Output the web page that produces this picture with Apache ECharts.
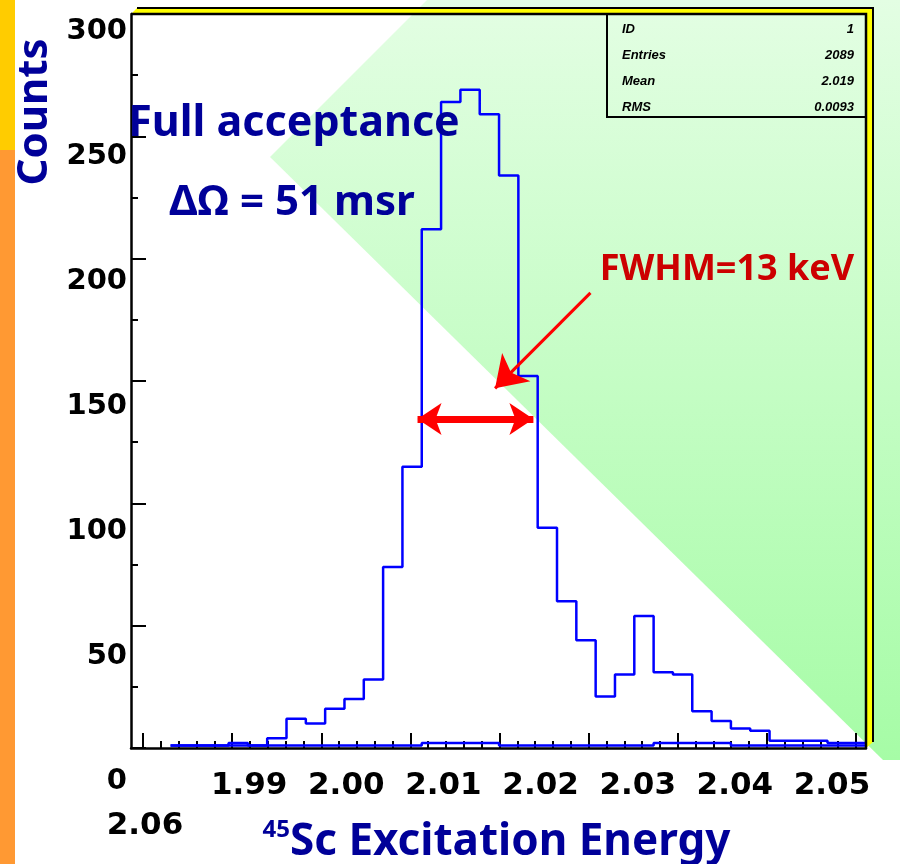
<!DOCTYPE html>
<html>
<head>
<meta charset="utf-8">
<script src="https://cdn.jsdelivr.net/npm/echarts@6/dist/echarts.min.js"></script>
<style>
  html, body { margin: 0; padding: 0; background: #ffffff; }
  #chart { width: 900px; height: 864px; }
</style>
</head>
<body>
<div id="chart"></div>
<script>
// 45Sc excitation-energy spectrum, full acceptance
const binStart = 1.98309;   // MeV, low edge of the first bin
const binWidth = 0.002168;  // MeV per bin
const counts = [1, 1, 1, 2, 1, 4, 12, 10, 16, 20, 28, 74, 115, 212, 264, 269, 259, 234,
                152, 90, 60, 44, 21, 30, 54, 31, 30, 15, 11, 8, 7, 3, 3, 3, 2, 2];
const lowCounts = [1, 1, 1, 1, 1, 1, 1, 1, 1, 1, 1, 1, 1, 2, 2, 2, 2, 1,
                   1, 1, 1, 1, 1, 1, 1, 2, 2, 2, 2, 1, 1, 1, 1, 1, 1, 1];
const yTickLabels = ['0', '50', '100', '150', '200', '250', '300'];
const xTickLabels = ['', '1.99', '2.00', '2.01', '2.02', '2.03', '2.04', '2.05'];
const wrappedXLabel = '2.06';
const fwhmKeV = 13;
const fwhmCenter = 2.0173;          // MeV
const pointerFrom = [2.0302, 186];  // [MeV, counts]
const pointerTo = [2.0195, 147];
const statNames = ['ID', 'Entries', 'Mean', 'RMS'];

function stepPoints(vals) {
  const pts = vals.map((c, i) => [binStart + i * binWidth, c]);
  pts.push([binStart + vals.length * binWidth, vals[vals.length - 1]]);
  return pts;
}

const peak = Math.max(...counts);
const entries = counts.reduce((a, b) => a + b, 0);
const mean = counts.reduce((a, c, i) => a + c * (binStart + (i + 0.5) * binWidth), 0) / entries;
const rms = Math.sqrt(counts.reduce((a, c, i) => {
  const d = binStart + (i + 0.5) * binWidth - mean; return a + c * d * d; }, 0) / entries);
const statValues = ['1', String(entries), mean.toFixed(3), rms.toFixed(4)];

const navy = '#000099';
const font = 'Noto Sans';
const numFont = 'DejaVu Sans';

const chart = echarts.init(document.getElementById('chart'), null, { renderer: 'canvas' });

const statText = [];
statNames.forEach((n, i) => {
  statText.push({ type: 'text', x: 622, y: 29 + i * 26, z: 50,
    style: { text: n, font: 'italic bold 13px "Liberation Sans"', fill: '#000', verticalAlign: 'middle' } });
  statText.push({ type: 'text', x: 854, y: 29 + i * 26, z: 50,
    style: { text: statValues[i], font: 'italic bold 13px "Liberation Sans"', fill: '#000', align: 'right', verticalAlign: 'middle' } });
});

chart.setOption({
  animation: false,
  backgroundColor: '#ffffff',
  grid: [
    { left: 131, right: 34, top: 14, bottom: 116 },   // spectrum
    { left: 143, right: 44, top: 14, bottom: 116 },   // energy ticks
    { left: 152, right: 68, top: 14, bottom: 98 },    // energy labels
    { left: 131, right: 34, top: 31, bottom: 83 }     // count labels
  ],
  xAxis: [
    { gridIndex: 0, type: 'value', min: 1.97865, max: 2.06112,
      axisLine: { show: true, onZero: false, lineStyle: { color: '#000', width: 2.5 } },
      axisTick: { show: false }, axisLabel: { show: false }, splitLine: { show: false } },
    { gridIndex: 1, type: 'value', min: 1.98, max: 2.06, interval: 0.01,
      axisLine: { show: false },
      axisTick: { show: true, inside: true, length: 15, lineStyle: { color: '#000', width: 2 } },
      minorTick: { show: true, splitNumber: 5, length: 7, lineStyle: { color: '#000', width: 2 } },
      axisLabel: { show: false }, splitLine: { show: false } },
    { gridIndex: 2, type: 'category', data: xTickLabels, boundaryGap: false,
      axisLine: { show: false }, axisTick: { show: false }, splitLine: { show: false },
      axisLabel: { show: true, interval: 0, margin: 4, color: '#000',
        fontFamily: numFont, fontWeight: 'bold', fontSize: 31 } },
    { gridIndex: 3, type: 'value', show: false }
  ],
  yAxis: [
    { gridIndex: 0, type: 'value', min: 0, max: 300, interval: 50,
      axisLine: { show: true, lineStyle: { color: '#000', width: 2.5 } },
      axisTick: { show: true, inside: true, length: 15, lineStyle: { color: '#000', width: 2 } },
      minorTick: { show: true, splitNumber: 2, length: 7, lineStyle: { color: '#000', width: 2 } },
      axisLabel: { show: false }, splitLine: { show: false } },
    { gridIndex: 1, type: 'value', min: 0, max: 300, show: false },
    { gridIndex: 2, type: 'value', min: 0, max: 300, show: false },
    { gridIndex: 3, type: 'category', data: yTickLabels, boundaryGap: false,
      axisLine: { show: false }, axisTick: { show: false }, splitLine: { show: false },
      axisLabel: { show: true, interval: 0, margin: 4, color: '#000',
        fontFamily: numFont, fontWeight: 'bold', fontSize: 29 } }
  ],
  series: [
    { type: 'line', xAxisIndex: 0, yAxisIndex: 0, step: 'end', showSymbol: false, silent: true,
      data: stepPoints(lowCounts), lineStyle: { color: '#0000ff', width: 2.5 }, z: 3 },
    { type: 'line', xAxisIndex: 0, yAxisIndex: 0, step: 'end', showSymbol: false, silent: true,
      data: stepPoints(counts), lineStyle: { color: '#0000ff', width: 2.5 }, z: 4,
      markLine: {
        silent: true, animation: false,
        label: { show: false },
        data: [
          [ { coord: [fwhmCenter - fwhmKeV / 2000, peak / 2], symbol: 'arrow', symbolSize: 24,
              lineStyle: { color: '#ff0000', width: 7, type: 'solid' } },
            { coord: [fwhmCenter + fwhmKeV / 2000, peak / 2], symbol: 'arrow', symbolSize: 24 } ],
          [ { coord: pointerFrom, symbol: 'none', lineStyle: { color: '#ff0000', width: 3, type: 'solid' } },
            { coord: pointerTo, symbol: 'arrow', symbolSize: 30 } ]
        ]
      } }
  ],
  graphic: [
    // slide side band
    { type: 'rect', shape: { x: 0, y: 0, width: 15, height: 150 }, style: { fill: '#ffcc00' }, z: -5 },
    { type: 'rect', shape: { x: 0, y: 150, width: 15, height: 714 }, style: { fill: '#ff9933' }, z: -5 },
    // green backdrop
    { type: 'polygon', z: -10,
      shape: { points: [[427, 0], [900, 0], [900, 760], [883, 760], [270, 157]] },
      style: { fill: new echarts.graphic.LinearGradient(0, 0, 0, 1, [
        { offset: 0, color: '#e3fee3' }, { offset: 1, color: '#a6fca6' }]) } },
    // raised frame
    { type: 'polygon', z: 20,
      shape: { points: [[131, 14], [137, 8], [873, 8], [873, 742], [866, 748], [866, 14]] },
      style: { fill: '#ffff00' } },
    { type: 'polyline', z: 21, shape: { points: [[137, 8], [873, 8], [873, 742]] },
      style: { stroke: '#000', lineWidth: 2, fill: null } },
    { type: 'polyline', z: 21, shape: { points: [[131, 14], [866, 14], [866, 748]] },
      style: { stroke: '#000', lineWidth: 2.5, fill: null } },
    // statistics box
    { type: 'polyline', z: 21, shape: { points: [[607, 14], [607, 117], [866, 117]] },
      style: { stroke: '#000', lineWidth: 2, fill: null } },
    ...statText,
    // titles and notes
    { type: 'text', x: 35, y: 112, rotation: Math.PI / 2, z: 50,
      style: { text: 'Counts', font: 'bold 42px "' + font + '"', fill: navy, align: 'center', verticalAlign: 'middle' } },
    { type: 'text', x: 294, y: 124, z: 50,
      style: { text: 'Full acceptance', font: 'bold 43px "' + font + '"', fill: navy, align: 'center', verticalAlign: 'middle' } },
    { type: 'text', x: 292, y: 203, z: 50,
      style: { text: 'ΔΩ = 51 msr', font: 'bold 42px "' + font + '"', fill: navy, align: 'center', verticalAlign: 'middle' } },
    { type: 'text', x: 727, y: 270, z: 50,
      style: { text: 'FWHM=' + fwhmKeV + ' keV', font: 'bold 36px "' + font + '"', fill: '#cc0000', align: 'center', verticalAlign: 'middle' } },
    { type: 'text', x: 290, y: 830, z: 50,
      style: { text: '45', font: 'bold 24px "' + font + '"', fill: navy, align: 'right', verticalAlign: 'middle' } },
    { type: 'text', x: 290, y: 842, z: 50,
      style: { text: 'Sc Excitation Energy', font: 'bold 44px "' + font + '"', fill: navy, align: 'left', verticalAlign: 'middle' } },
    { type: 'text', x: 145, y: 826, z: 50,
      style: { text: wrappedXLabel, font: 'bold 31px "' + numFont + '"', fill: '#000', align: 'center', verticalAlign: 'middle' } }
  ]
});
</script>
</body>
</html>
